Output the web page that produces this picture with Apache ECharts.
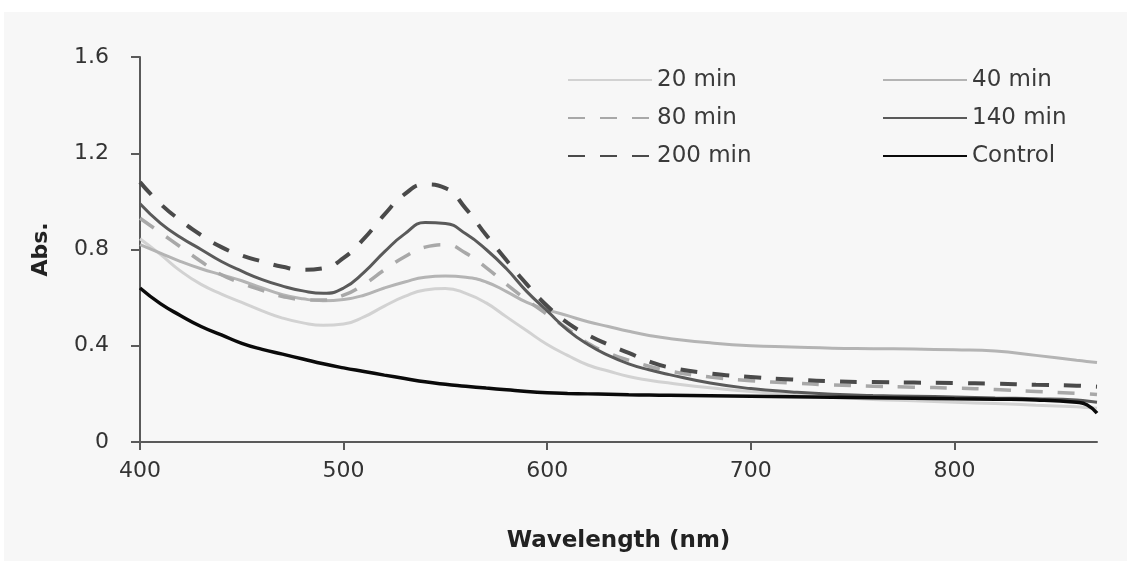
<!DOCTYPE html>
<html>
<head>
<meta charset="utf-8">
<script src="https://cdn.jsdelivr.net/npm/echarts@6/dist/echarts.min.js"></script>
<style>
  html, body { margin: 0; padding: 0; background: #ffffff; }
  #panel { position: absolute; left: 4px; top: 12px; width: 1123px; height: 549px; background: #f7f7f7; }
  #chart { position: absolute; left: 0; top: 0; width: 1127px; height: 561px; }
</style>
</head>
<body>
<div id="panel"></div>
<div id="chart"></div>
<script>
// Wavelength grid (nm) shared by every spectrum
const wavelength = [400, 410, 420, 430, 440, 450, 460, 470, 480, 490, 500, 510, 520, 530, 540, 550, 560, 570, 580, 590,
  600, 610, 620, 630, 640, 650, 660, 680, 700, 720, 740, 760, 780, 800, 820, 840, 860, 865, 870];

// Absorbance readings at each wavelength
const abs20 = [0.845, 0.78, 0.71, 0.655, 0.615, 0.58, 0.545, 0.515, 0.495, 0.485, 0.49, 0.52, 0.565, 0.605, 0.632, 0.638, 0.618, 0.578, 0.52, 0.462,
  0.405, 0.36, 0.32, 0.295, 0.272, 0.257, 0.245, 0.225, 0.21, 0.197, 0.186, 0.177, 0.171, 0.165, 0.16, 0.153, 0.146, 0.143, 0.14];
const abs40 = [0.82, 0.785, 0.75, 0.72, 0.695, 0.67, 0.64, 0.612, 0.595, 0.587, 0.592, 0.61, 0.64, 0.665, 0.685, 0.69, 0.685, 0.665, 0.625, 0.58,
  0.55, 0.525, 0.50, 0.48, 0.46, 0.443, 0.43, 0.412, 0.40, 0.395, 0.39, 0.388, 0.386, 0.383, 0.378, 0.36, 0.34, 0.335, 0.33];
const abs80 = [0.93, 0.87, 0.81, 0.75, 0.695, 0.66, 0.63, 0.605, 0.592, 0.59, 0.61, 0.655, 0.715, 0.77, 0.81, 0.82, 0.785, 0.725, 0.655, 0.59,
  0.53, 0.47, 0.41, 0.37, 0.34, 0.315, 0.295, 0.27, 0.255, 0.245, 0.237, 0.232, 0.228, 0.224, 0.218, 0.21, 0.202, 0.2, 0.197];
const abs140 = [0.99, 0.91, 0.85, 0.80, 0.75, 0.71, 0.675, 0.648, 0.628, 0.618, 0.64, 0.705, 0.79, 0.865, 0.912, 0.908, 0.865, 0.80, 0.72, 0.625,
  0.545, 0.465, 0.405, 0.36, 0.325, 0.30, 0.28, 0.245, 0.222, 0.208, 0.198, 0.193, 0.19, 0.187, 0.183, 0.18, 0.175, 0.17, 0.165];
const abs200 = [1.08, 0.99, 0.92, 0.86, 0.81, 0.775, 0.75, 0.728, 0.716, 0.722, 0.765, 0.845, 0.945, 1.03, 1.07, 1.055, 0.97, 0.86, 0.755, 0.655,
  0.565, 0.495, 0.445, 0.405, 0.37, 0.335, 0.31, 0.285, 0.27, 0.26, 0.252, 0.249, 0.247, 0.245, 0.242, 0.238, 0.234, 0.232, 0.23];
const absControl = [0.64, 0.575, 0.525, 0.48, 0.445, 0.41, 0.385, 0.365, 0.345, 0.325, 0.308, 0.293, 0.278, 0.264, 0.25, 0.24, 0.232, 0.224, 0.217, 0.21,
  0.205, 0.202, 0.2, 0.198, 0.196, 0.195, 0.194, 0.192, 0.19, 0.188, 0.186, 0.184, 0.182, 0.18, 0.178, 0.175, 0.165, 0.155, 0.12];

const xTicks = [400, 500, 600, 700, 800];
const yTicks = [0, 0.4, 0.8, 1.2, 1.6];
const legendLeft = ['20 min', '80 min', '200 min'];
const legendRight = ['40 min', '140 min', 'Control'];

const FONT = 'DejaVu Sans';
const AXIS_COLOR = '#5a5a5a';

function pairs(ys) {
  return wavelength.map((w, i) => [w, ys[i]]);
}

function line(name, ys, color, width, dashed, z) {
  return {
    name: name,
    type: 'line',
    data: pairs(ys),
    smooth: 0.5,
    showSymbol: false,
    symbol: 'none',
    z: z,
    lineStyle: { color: color, width: width, type: dashed ? [17, 15] : 'solid', cap: 'butt' },
    itemStyle: { color: color }
  };
}

const legendBase = {
  orient: 'vertical',
  top: 67,
  padding: 0,
  itemGap: 12,
  itemHeight: 14,
  selectedMode: false,
  itemStyle: { opacity: 0, borderWidth: 0 },
  textStyle: { fontFamily: FONT, fontSize: 23, color: '#3a3a3a', lineHeight: 26 }
};

const chart = echarts.init(document.getElementById('chart'), null, { renderer: 'canvas' });
chart.setOption({
  backgroundColor: 'transparent',
  animation: false,
  grid: { left: 140, right: 30, top: 57, bottom: 119, containLabel: false },
  legend: [
    Object.assign({}, legendBase, { left: 567, itemWidth: 84, data: legendLeft }),
    Object.assign({}, legendBase, { left: 882, itemWidth: 84, data: legendRight })
  ],
  xAxis: {
    type: 'value',
    min: 400,
    max: 870,
    interval: 100,
    name: 'Wavelength (nm)',
    nameLocation: 'middle',
    nameGap: 88,
    nameTextStyle: { fontFamily: FONT, fontSize: 23, fontWeight: 'bold', color: '#222' },
    axisLine: { lineStyle: { color: AXIS_COLOR, width: 2 } },
    axisTick: { show: true, inside: false, length: 8, lineStyle: { color: AXIS_COLOR, width: 2 }, customValues: xTicks },
    axisLabel: { fontFamily: FONT, fontSize: 22, color: '#333', margin: 18, customValues: xTicks },
    splitLine: { show: false }
  },
  yAxis: {
    type: 'value',
    min: 0,
    max: 1.6,
    interval: 0.4,
    name: 'Abs.',
    nameLocation: 'middle',
    nameGap: 88,
    nameRotate: 90,
    nameTextStyle: { fontFamily: FONT, fontSize: 22, fontWeight: 'bold', color: '#222' },
    axisLine: { show: true, lineStyle: { color: AXIS_COLOR, width: 2 } },
    axisTick: { show: true, inside: false, length: 9, lineStyle: { color: AXIS_COLOR, width: 2 }, customValues: yTicks },
    axisLabel: {
      fontFamily: FONT, fontSize: 22, color: '#333', margin: 31, customValues: yTicks,
      formatter: v => (v === 0 ? '0' : v.toFixed(1))
    },
    splitLine: { show: false }
  },
  series: [
    line('20 min', abs20, '#d2d2d2', 3, false, 2),
    line('40 min', abs40, '#b4b4b4', 3, false, 3),
    line('80 min', abs80, '#a8a8a8', 3.5, true, 4),
    line('140 min', abs140, '#5a5a5a', 3, false, 5),
    line('200 min', abs200, '#4a4a4a', 4, true, 6),
    line('Control', absControl, '#0a0a0a', 3.5, false, 7)
  ]
});
</script>
</body>
</html>
